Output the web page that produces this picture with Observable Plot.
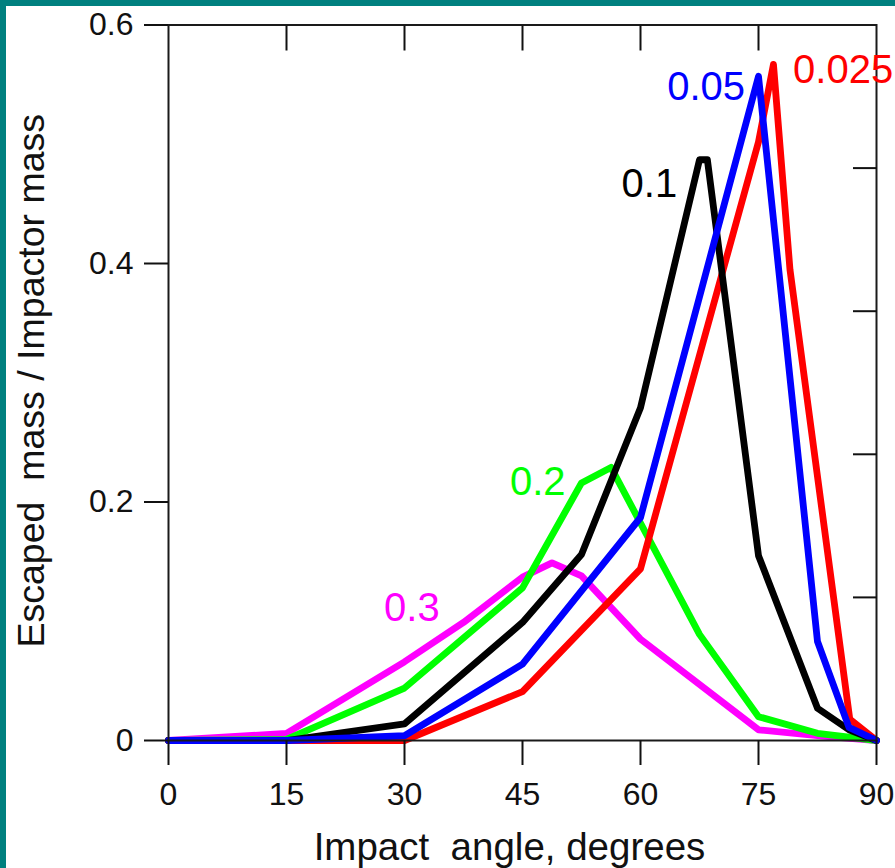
<!DOCTYPE html>
<html>
<head>
<meta charset="utf-8">
<script src="https://cdn.jsdelivr.net/npm/d3@7"></script>
<script src="https://cdn.jsdelivr.net/npm/@observablehq/plot@0.6"></script>
<style>
  html, body { margin: 0; padding: 0; background: #ffffff; }
  #wrap { position: relative; width: 895px; height: 868px; overflow: hidden; background: #fff; }
  #wrap svg { position: absolute; left: 0; top: 0; }
  #wrap svg text { white-space: pre; }
  .bar-top { position: absolute; left: 0; top: 0; width: 895px; height: 6px; background: #00807f; }
  .bar-left { position: absolute; left: 0; top: 0; width: 6px; height: 868px; background: #00807f; }
</style>
</head>
<body>
<div id="wrap"><div class="bar-top"></div><div class="bar-left"></div></div>
<script>
// ---- data ----
const seriesNames = ["0.3", "0.2", "0.025", "0.1", "0.05"];
const seriesColors = ["#ff00ff", "#00ff00", "#ff0000", "#000000", "#0000ff"];

const angles_03 = [0, 15, 30, 37.5, 45, 48.75, 52.5, 60, 75, 82.5, 90];
const values_03 = [0, 0.006, 0.066, 0.099, 0.137, 0.149, 0.138, 0.085, 0.009, 0.004, 0];

const angles_02 = [0, 15, 30, 45, 52.5, 56.25, 67.5, 75, 82.5, 86.25, 90];
const values_02 = [0, 0.001, 0.044, 0.128, 0.216, 0.229, 0.089, 0.02, 0.006, 0.003, 0];

const angles_0025 = [0, 15, 30, 45, 60, 75, 76.9, 79, 86.6, 90];
const values_0025 = [0, 0, 0, 0.041, 0.144, 0.502, 0.567, 0.395, 0.018, 0];

const angles_01 = [0, 15, 30, 45, 52.5, 60, 67.5, 68.5, 75, 82.5, 86.5, 90];
const values_01 = [0, 0, 0.014, 0.099, 0.156, 0.279, 0.487, 0.487, 0.155, 0.027, 0.009, 0];

const angles_005 = [0, 15, 30, 45, 60, 75, 82.5, 86.5, 90];
const values_005 = [0, 0, 0.004, 0.064, 0.187, 0.557, 0.083, 0.011, 0];

const seriesAngles = [angles_03, angles_02, angles_0025, angles_01, angles_005];
const seriesValues = [values_03, values_02, values_0025, values_01, values_005];

// tick values
const xTicks = [0, 15, 30, 45, 60, 75, 90];
const yTicks = [0, 0.2, 0.4, 0.6];
const topTicks = [15, 30, 45, 60, 75];
const rightTicks = [0.12, 0.24, 0.36, 0.48];

// series labels
const labelTexts = ["0.3", "0.2", "0.025", "0.1", "0.05"];
const labelX = [27.4, 43.4, 79.4, 57.6, 63.4];
const labelY = [0.1006, 0.2055, 0.551, 0.4556, 0.537];

const xTitle = "Impact  angle, degrees";
const yTitle = "Escaped  mass / Impactor mass";

// ---- build rows ----
const rows = [];
seriesNames.forEach((name, i) => {
  seriesAngles[i].forEach((a, j) => rows.push({series: name, angle: a, value: seriesValues[i][j]}));
});
const labels = labelTexts.map((t, i) => ({text: t, x: labelX[i], y: labelY[i],
  color: seriesColors[seriesNames.indexOf(t)]}));

const fontFamily = "'Liberation Sans', Arial, Helvetica, sans-serif";

const chart = Plot.plot({
  width: 895,
  height: 868,
  marginLeft: 168,
  marginRight: 19,
  marginTop: 24.5,
  marginBottom: 128,
  style: {fontFamily, color: "#111", background: "transparent", overflow: "visible"},
  x: {domain: [0, 90]},
  y: {domain: [0, 0.6]},
  color: {domain: seriesNames, range: seriesColors},
  marks: [
    Plot.line(rows, {x: "angle", y: "value", z: "series", stroke: "series",
      strokeWidth: 6.8, strokeLinejoin: "round", strokeLinecap: "round"}),
    Plot.frame({stroke: "#1a1a1a", strokeWidth: 2}),
    Plot.axisX({ticks: xTicks, tickSize: 25, tickPadding: 17, fontSize: 32,
      strokeWidth: 2, label: null, tickFormat: d => String(d)}),
    Plot.axisY({ticks: yTicks, tickSize: 24, tickPadding: 11, fontSize: 32,
      strokeWidth: 2, label: null, tickFormat: d => d === 0 ? "0" : d.toFixed(1)}),
    Plot.axisX({anchor: "top", ticks: topTicks, tickSize: -25, strokeWidth: 2,
      label: null, tickFormat: () => ""}),
    Plot.axisY({anchor: "right", ticks: rightTicks, tickSize: -24, strokeWidth: 2,
      label: null, tickFormat: () => ""}),
    Plot.text([xTitle], {frameAnchor: "bottom", lineAnchor: "bottom", dy: 119, dx: -13,
      fontSize: 38.5, fill: "#111"}),
    Plot.text([yTitle], {frameAnchor: "left", textAnchor: "middle", lineAnchor: "bottom", rotate: -90,
      dx: -125, dy: -2, fontSize: 37.5, fill: "#111"}),
    Plot.text(labels, {x: "x", y: "y", text: "text", fill: d => d.color,
      textAnchor: "start", lineAnchor: "bottom", fontSize: 40})
  ]
});
document.getElementById("wrap").prepend(chart);
</script>
</body>
</html>
